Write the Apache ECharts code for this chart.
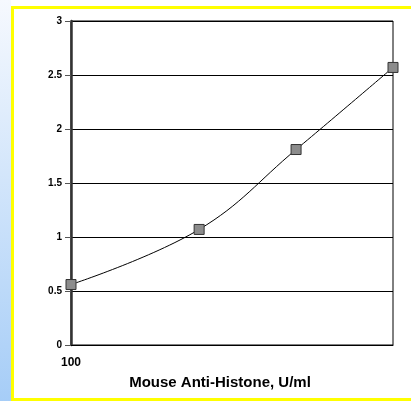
<!DOCTYPE html>
<html>
<head>
<meta charset="utf-8">
<script src="https://cdn.jsdelivr.net/npm/echarts@6/dist/echarts.min.js"></script>
<style>
  html, body { margin: 0; padding: 0; background: #fff; }
  #chart { width: 411px; height: 401px; }
</style>
</head>
<body>
<div id="chart"></div>
<script>
// 数据
var concentrations = [100, 250, 500, 1000];   // U/ml
var readings = [0.56, 1.07, 1.81, 2.57];
var xTickLabels = ['100'];
var xTitle = 'Mouse Anti-Histone, U/ml';

var myChart = echarts.init(document.getElementById('chart'));

var points = concentrations.map(function (c, i) { return [c, readings[i]]; });

var option = {
    backgroundColor: '#fff',
    animation: false,
    graphic: [
        {
            type: 'rect', z: -10,
            shape: { x: 0, y: 0, width: 11, height: 401 },
            style: {
                fill: new echarts.graphic.LinearGradient(0, 0, 0, 1, [
                    { offset: 0, color: '#f6f9fe' },
                    { offset: 1, color: '#a6cdf7' }
                ])
            }
        },
        {
            type: 'rect', z: 100,
            shape: { x: 12.5, y: 7.5, width: 420, height: 392 },
            style: { fill: null, stroke: '#ffff00', lineWidth: 3 }
        }
    ],
    grid: {
        left: 71, top: 21, right: 18, bottom: 56,
        show: true, borderColor: '#000', borderWidth: 1
    },
    xAxis: {
        type: 'log',
        logBase: 10,
        min: 100,
        max: 1000,
        name: xTitle,
        nameLocation: 'middle',
        nameGap: 30,
        nameTextStyle: {
            fontFamily: 'Liberation Sans', fontWeight: 'bold', fontSize: 15,
            color: '#000', padding: [0, 24, 0, 0]
        },
        axisLine: { lineStyle: { color: '#000', width: 1 } },
        axisTick: { show: false },
        splitLine: { show: false },
        axisLabel: {
            margin: 12,
            fontFamily: 'Liberation Sans', fontWeight: 'bold', fontSize: 12, color: '#000',
            formatter: function (v) {
                return xTickLabels.indexOf(String(Math.round(v))) >= 0 ? String(Math.round(v)) : '';
            }
        }
    },
    yAxis: {
        type: 'value',
        min: 0,
        max: 3,
        interval: 0.5,
        axisLine: { show: true, lineStyle: { color: '#333', width: 2.5 } },
        axisTick: { show: true, length: 6, lineStyle: { color: '#555', width: 1 } },
        splitLine: { lineStyle: { color: '#000', width: 1 } },
        axisLabel: {
            margin: 9,
            fontFamily: 'Liberation Sans', fontWeight: 'bold', fontSize: 10, color: '#000'
        }
    },
    series: [{
        type: 'line',
        data: points,
        smooth: 0.4,
        symbol: 'rect',
        symbolSize: 10,
        lineStyle: { color: '#000', width: 1 },
        itemStyle: { color: '#8c8c8c', borderColor: '#333', borderWidth: 1 },
        z: 5
    }]
};

myChart.setOption(option);
</script>
</body>
</html>
